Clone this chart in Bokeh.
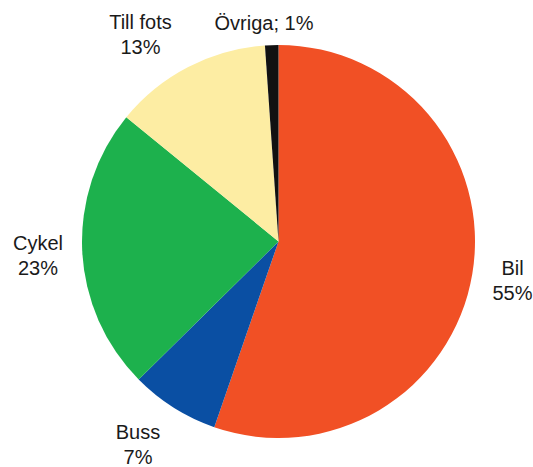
import numpy as np
from bokeh.plotting import figure
from bokeh.models import Range1d, ColumnDataSource
from bokeh.core.properties import value
from bokeh.embed import file_html
from bokeh.resources import INLINE

# ---- data ----
categories = ["Bil", "Buss", "Cykel", "Till fots", "Övriga"]
values = [55.3, 7.3, 23.3, 13.0, 1.1]
pct_labels = ["55%", "7%", "23%", "13%", "1%"]
colors = ["#F15025", "#0A4FA3", "#1DB14D", "#FDEDA3", "#111111"]

# ---- layout (screen px, y down) ----
W, H = 533, 467
cx, cy, R = 278, 241, 196.5
label_x = [512, 137.5, 37.5, 140, 263.5]
label_y = [292, 456, 267, 46, 22]   # baseline of last line
line_gap = 25

vals = np.array(values, dtype=float)
frac = vals / vals.sum()
cum = np.concatenate([[0], np.cumsum(frac)])
start = np.pi / 2 - cum[:-1] * 2 * np.pi
end = np.pi / 2 - cum[1:] * 2 * np.pi

p = figure(width=W, height=H, x_range=Range1d(0, W), y_range=Range1d(0, H),
           x_axis_type=None, y_axis_type=None, min_border=0,
           output_backend="svg", toolbar_location=None)
p.outline_line_color = None
p.grid.visible = False
p.background_fill_color = "white"

src = ColumnDataSource(dict(start=start, end=end, color=colors))
p.wedge(x=cx, y=H - cy, radius=R, radius_units="screen",
        start_angle="start", end_angle="end", direction="clock",
        fill_color="color", line_color=None, source=src)

font = value("Liberation Sans")
l1x, l1y, l1t = [], [], []
l2x, l2y, l2t = [], [], []
for c, pl, x, y in zip(categories, pct_labels, label_x, label_y):
    if c == "Övriga":
        l2x.append(x); l2y.append(H - y); l2t.append(f"{c}; {pl}")
    else:
        l1x.append(x); l1y.append(H - (y - line_gap)); l1t.append(c)
        l2x.append(x); l2y.append(H - y); l2t.append(pl)

for xs, ys, ts in [(l1x, l1y, l1t), (l2x, l2y, l2t)]:
    p.text(x=xs, y=ys, text=ts, text_font=font, text_font_size="20px",
           text_color="#1a1a1a", text_align="center", text_baseline="alphabetic")

open("out.html", "w").write(file_html(p, INLINE))
